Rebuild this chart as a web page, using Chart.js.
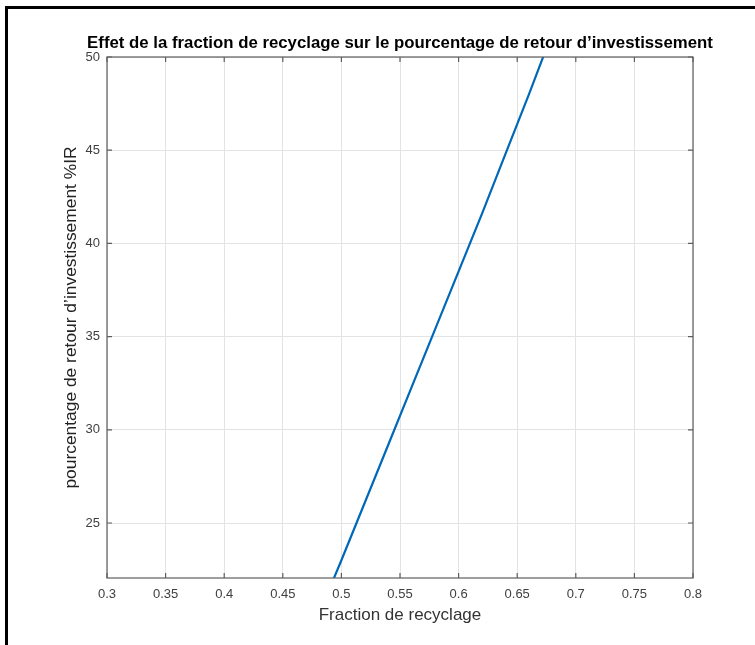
<!DOCTYPE html>
<html>
<head>
<meta charset="utf-8">
<script src="https://cdn.jsdelivr.net/npm/chart.js@4"></script>
<style>
  body { margin: 0; background: #fff; }
  #wrap { position: relative; width: 755px; height: 645px; overflow: hidden; }
  #frame { position: absolute; left: 5px; top: 6px; right: -10px; bottom: -10px;
           border-left: 3px solid #000; border-top: 3px solid #000; pointer-events: none; }
  canvas { position: absolute; left: 0; top: 0; }
</style>
</head>
<body>
<div id="wrap">
  <canvas id="plot" width="755" height="645"></canvas>
  <div id="frame"></div>
</div>
<script>
// values
var fraction = [0.48, 0.50, 0.52, 0.54, 0.56, 0.58, 0.60, 0.62, 0.64, 0.66, 0.68];
var retour   = [20.0, 23.0, 26.1, 29.2, 32.3, 35.4, 38.5, 41.6, 44.8, 48.0, 51.3];

var xTicks = [0.3, 0.35, 0.4, 0.45, 0.5, 0.55, 0.6, 0.65, 0.7, 0.75, 0.8];
var yTicks = [25, 30, 35, 40, 45, 50];

var titleText = "Effet de la fraction de recyclage sur le pourcentage de retour d\u2019investissement";
var xLabel = "Fraction de recyclage";
var yLabel = "pourcentage de retour d\u2019investissement %IR";

var points = [];
for (var i = 0; i < fraction.length; i++) {
  points.push({x: fraction[i], y: retour[i]});
}

var FONT = "'Liberation Sans', Arial, Helvetica, sans-serif";

// MATLAB-like box with inward ticks + title
var boxPlugin = {
  id: 'matlabBox',
  afterDatasetsDraw: function(chart) {
    var ctx = chart.ctx, a = chart.chartArea;
    var xs = chart.scales.x, ys = chart.scales.y;
    ctx.save();
    ctx.strokeStyle = '#5e5e5e';
    ctx.lineWidth = 1.2;
    ctx.strokeRect(a.left, a.top, a.right - a.left, a.bottom - a.top);
    ctx.beginPath();
    var tl = 5;
    xTicks.forEach(function(v) {
      var px = xs.getPixelForValue(v);
      ctx.moveTo(px, a.bottom); ctx.lineTo(px, a.bottom - tl);
      ctx.moveTo(px, a.top); ctx.lineTo(px, a.top + tl);
    });
    yTicks.forEach(function(v) {
      var py = ys.getPixelForValue(v);
      ctx.moveTo(a.left, py); ctx.lineTo(a.left + tl, py);
      ctx.moveTo(a.right, py); ctx.lineTo(a.right - tl, py);
    });
    ctx.stroke();

    ctx.fillStyle = '#000';
    ctx.font = "bold 16.8px " + FONT;
    ctx.textAlign = 'center';
    ctx.textBaseline = 'alphabetic';
    ctx.fillText(titleText, (a.left + a.right) / 2, 48);
    ctx.restore();
  }
};

new Chart("plot", {
  type: "line",
  data: {
    datasets: [{
      data: points,
      borderColor: "#0068B8",
      borderWidth: 2.2,
      pointRadius: 0,
      fill: false,
      tension: 0
    }]
  },
  options: {
    responsive: false,
    animation: false,
    events: [],
    layout: { padding: { top: 57, right: 62, left: 0, bottom: 0 } },
    plugins: { legend: { display: false }, title: { display: false }, tooltip: { enabled: false } },
    scales: {
      x: {
        type: "linear",
        position: "bottom",
        min: 0.3, max: 0.8,
        afterBuildTicks: function(s) { s.ticks = xTicks.map(function(v) { return {value: v}; }); },
        afterFit: function(s) { s.height = 67; },
        grid: { color: "#e3e3e3", drawTicks: false, lineWidth: 1 },
        border: { display: false },
        ticks: {
          color: "#404040", padding: 9, maxRotation: 0, autoSkip: false,
          font: { family: FONT, size: 13 },
          callback: function(v) { return String(+v.toFixed(2)); }
        },
        title: {
          display: true, text: xLabel, color: "#333",
          font: { family: FONT, size: 17 },
          padding: { top: 0, bottom: 19 }
        }
      },
      y: {
        type: "linear",
        position: "left",
        min: 22.05, max: 50,
        afterBuildTicks: function(s) { s.ticks = yTicks.map(function(v) { return {value: v}; }); },
        afterFit: function(s) { s.width = 107; },
        grid: { color: "#e3e3e3", drawTicks: false, lineWidth: 1 },
        border: { display: false },
        ticks: {
          color: "#404040", padding: 7,
          font: { family: FONT, size: 13 }
        },
        title: {
          display: true, text: yLabel, color: "#222",
          font: { family: FONT, size: 17.4 },
          padding: { top: 61, bottom: 0 }
        }
      }
    }
  },
  plugins: [boxPlugin]
});
</script>
</body>
</html>
